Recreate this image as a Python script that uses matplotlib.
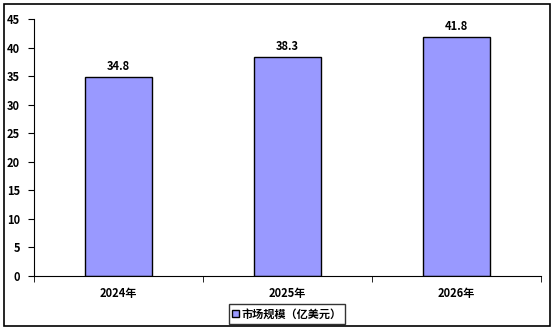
import matplotlib.pyplot as plt
from matplotlib.patches import Rectangle
import numpy as np

plt.rcParams['font.family'] = ['Noto Sans CJK SC', 'DejaVu Sans']

# data ==========================================================
years = ['2024年', '2025年', '2026年']
market = [34.8, 38.3, 41.8]
series_name = '市场规模（亿美元）'
yticks = [0, 5, 10, 15, 20, 25, 30, 35, 40, 45]

fig = plt.figure(figsize=(5.54, 3.30), dpi=100)
ax = fig.add_axes([34 / 554, 1 - 276 / 330, 507 / 554, 257 / 330])

x = np.arange(len(years))
ax.bar(x, market, width=0.4, color='#9999FF', edgecolor='black',
       linewidth=1.0, label=series_name, zorder=2)
for xi, v in zip(x, market):
    ax.text(xi, v + 0.8, '%.1f' % v, ha='center', va='bottom',
            fontsize=8, fontweight='bold')

ax.set_xlim(-0.5, len(years) - 0.5)
ax.set_ylim(0, 45)
ax.set_yticks(yticks)
ax.set_yticklabels([str(t) for t in yticks], fontsize=8, fontweight='bold')
ax.set_xticks(x)
ax.set_xticklabels(years, fontsize=8, fontweight='bold')
ax.tick_params(axis='x', length=0, pad=8)
ax.set_xticks(np.arange(len(years) + 1) - 0.5, minor=True)
ax.tick_params(axis='x', which='minor', length=4, direction='out')
ax.tick_params(axis='y', length=4, direction='out', pad=6)
ax.spines['top'].set_visible(False)
ax.spines['right'].set_visible(False)

leg = ax.legend(loc='center', bbox_to_anchor=(287 / 554, 1 - 314 / 330),
                bbox_transform=fig.transFigure, prop={'size': 8, 'weight': 'bold'},
                frameon=True, fancybox=False, handlelength=0.6, handleheight=0.6,
                handletextpad=0.3, borderpad=0.3)
leg.get_frame().set_edgecolor('black')
leg.get_frame().set_linewidth(1.0)

# outer border
fig.patches.append(Rectangle((4 / 554, 4 / 330), 546 / 554, 322 / 330,
                             transform=fig.transFigure, fill=False,
                             edgecolor='black', linewidth=1.2))

fig.savefig('out.png', dpi=100)
